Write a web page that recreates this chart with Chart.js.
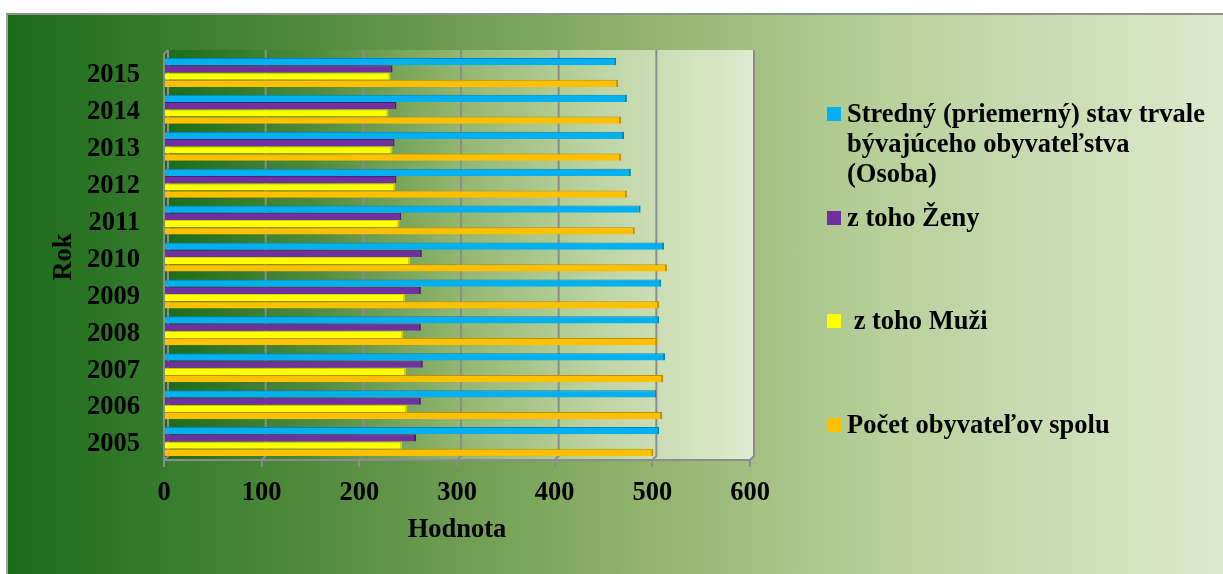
<!DOCTYPE html>
<html>
<head>
<meta charset="utf-8">
<title>Obyvateľstvo 2005 - 2015</title>
<script src="https://cdn.jsdelivr.net/npm/chart.js@4.4.0/dist/chart.umd.min.js"></script>
<style>
  body { margin: 0; background: #fff; overflow: hidden; }
  #frame {
    position: absolute; left: 6px; top: 13px; width: 1230px; height: 570px;
    border-left: 2px solid #a3a3a3; border-top: 2px solid #8f8f8f;
    background: linear-gradient(to right, #1b6b1b 0%, #4f8a3c 24%, #8aae66 48%, #b9d19c 72%, #dfeacf 100%);
  }
  #chart { position: absolute; left: 0; top: 0; }
  .item {
    position: absolute; left: 827px; color: #000;
    font: bold 26.5px "Liberation Serif", "Times New Roman", serif; line-height: 30px;
  }
  .item .box { position: absolute; left: 0; top: 9px; width: 14px; height: 14px; }
  .item .txt { margin-left: 20px; width: 362px; white-space: pre-wrap; }
</style>
</head>
<body>
<div id="frame"></div>
<canvas id="chart" width="1223" height="574"></canvas>
<div id="legend"></div>
<script>
// values
const years = ['2005', '2006', '2007', '2008', '2009', '2010', '2011', '2012', '2013', '2014', '2015'];
const stredny = [507, 504, 513, 507, 509, 512, 488, 478, 471, 474, 463];
const zeny = [258, 263, 265, 263, 263, 264, 243, 238, 236, 238, 234];
const muzi = [244, 249, 248, 245, 247, 252, 241, 237, 234, 230, 232];
const spolu = [501, 510, 511, 505, 507, 515, 482, 474, 468, 468, 465];
const xTicks = [0, 100, 200, 300, 400, 500, 600];

const names = [
  'Stredný (priemerný) stav trvale bývajúceho obyvateľstva (Osoba)',
  'z toho Ženy',
  ' z toho Muži',
  'Počet obyvateľov spolu'
];
const fills = ['#00b0f0', '#7030a0', '#ffff00', '#ffc000'];
const edges = ['#0086bb', '#4d1f70', '#d2d200', '#bf8f00'];
const series = [stredny, zeny, muzi, spolu];

const font = { family: '"Liberation Serif", "Times New Roman", serif', size: 26.5, weight: 'bold' };

// back wall + floor of the 3d plot
const wall = {
  id: 'wall',
  beforeDraw(chart) {
    const { ctx, chartArea: a, scales: { x } } = chart;
    const d = 4;
    const g = ctx.createLinearGradient(a.left, 0, a.right + d, 0);
    g.addColorStop(0, '#1b6b1b');
    g.addColorStop(0.25, '#4f8a3c');
    g.addColorStop(0.5, '#93b670');
    g.addColorStop(0.75, '#c0d6a6');
    g.addColorStop(1, '#dfeacf');
    ctx.save();
    ctx.beginPath();
    ctx.moveTo(a.left, a.top);
    ctx.lineTo(a.left + d, a.top - d);
    ctx.lineTo(a.right + d, a.top - d);
    ctx.lineTo(a.right + d, a.bottom - d);
    ctx.lineTo(a.right, a.bottom);
    ctx.lineTo(a.left, a.bottom);
    ctx.closePath();
    ctx.fillStyle = g;
    ctx.fill();

    ctx.strokeStyle = '#8c8c8c';
    ctx.lineWidth = 2;
    x.ticks.forEach(t => {
      const px = x.getPixelForValue(t.value);
      ctx.beginPath();
      ctx.moveTo(px, a.bottom);
      ctx.lineTo(px + d, a.bottom - d);
      ctx.lineTo(px + d, a.top - d);
      ctx.stroke();
    });
    ctx.beginPath();
    ctx.moveTo(a.left, a.bottom);
    ctx.lineTo(a.left, a.top);
    ctx.lineTo(a.left + d, a.top - d);
    ctx.stroke();
    ctx.restore();
  }
};

const datasets = series.map((data, i) => ({
  label: names[i],
  data: data,
  backgroundColor: fills[i],
  borderColor: edges[i],
  borderWidth: { top: 1, right: 2, bottom: 0, left: 0 },
  borderSkipped: false,
  categoryPercentage: 0.786,
  barPercentage: 1.0
}));

new Chart(document.getElementById('chart'), {
  type: 'bar',
  data: { labels: years, datasets: datasets },
  options: {
    indexAxis: 'y',
    responsive: false,
    animation: false,
    layout: { padding: { left: 0, top: 54, right: 473, bottom: 28 } },
    plugins: { legend: { display: false }, tooltip: { enabled: false } },
    scales: {
      x: {
        min: 0,
        max: 600,
        afterBuildTicks: s => { s.ticks = xTicks.map(v => ({ value: v })); },
        grid: { drawOnChartArea: false, drawTicks: true, tickLength: 7, color: '#8c8c8c', lineWidth: 2 },
        border: { display: true, color: '#8c8c8c', width: 2 },
        ticks: { color: '#000', font: font, padding: 10 },
        title: { display: true, text: 'Hodnota', color: '#000', font: font, padding: { top: 0, bottom: 0 } },
        afterFit: s => { s.height = 86; }
      },
      y: {
        reverse: true,
        grid: { display: false },
        border: { display: false },
        ticks: { color: '#000', font: font, padding: 16, labelOffset: 3 },
        title: { display: true, text: 'Rok', color: '#000', font: font, padding: { top: 48, bottom: 0 } },
        afterFit: s => { s.width = 164; }
      }
    }
  },
  plugins: [wall]
});

// legend as html, so the long label can wrap
const legend = document.getElementById('legend');
datasets.forEach((ds, i) => {
  const item = document.createElement('div');
  item.className = 'item';
  item.style.top = (98 + i * 103.7) + 'px';
  item.innerHTML = '<div class="box"></div><div class="txt"></div>';
  item.querySelector('.box').style.background = ds.backgroundColor;
  item.querySelector('.txt').textContent = ds.label;
  legend.appendChild(item);
});
</script>
</body>
</html>
